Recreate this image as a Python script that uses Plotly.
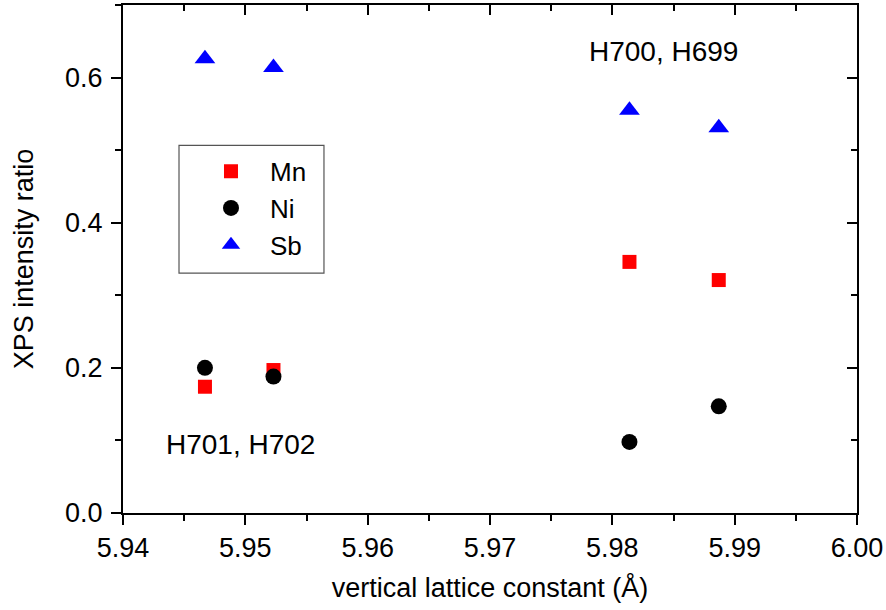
import plotly.graph_objects as go

# Data
x_vals = [5.9467, 5.9523, 5.9814, 5.9887]
mn_vals = [0.174, 0.197, 0.346, 0.321]
ni_vals = [0.200, 0.188, 0.098, 0.147]
sb_vals = [0.626, 0.614, 0.555, 0.531]

series_names = ["Mn", "Ni", "Sb"]
series_colors = ["#ff0000", "#000000", "#0000ff"]
series_symbols = ["square", "circle", "triangle-up"]
series_sizes = [14, 16, 18]

sample_labels = ["H701, H702", "H700, H699"]
label_x = [5.9496, 5.98415]
label_y = [0.095, 0.6355]

x_range = [5.94, 6.00]
y_range = [0.0, 0.7]
x_ticks = [5.94, 5.95, 5.96, 5.97, 5.98, 5.99, 6.00]
y_ticks = [0.0, 0.2, 0.4, 0.6]

FONT = "Arial, Liberation Sans, sans-serif"
FS = 27

fig = go.Figure()
for name, vals, col, sym, sz in zip(series_names, [mn_vals, ni_vals, sb_vals],
                                     series_colors, series_symbols, series_sizes):
    fig.add_trace(go.Scatter(x=x_vals, y=vals, mode="markers", name=name,
                             marker=dict(color=col, symbol=sym, size=sz, line=dict(width=0))))

# helper trace so that the mirrored (inward-tick) axes are drawn
fig.add_trace(go.Scatter(x=[None], y=[None], xaxis="x2", yaxis="y2",
                         showlegend=False, hoverinfo="skip"))

common = dict(showline=True, linecolor="black", linewidth=2, showgrid=False,
              zeroline=False, tickcolor="black", tickwidth=2, ticklen=10,
              automargin=False)

fig.update_layout(
    width=886, height=610,
    margin=dict(l=123, r=29, t=5, b=97),
    paper_bgcolor="white", plot_bgcolor="white",
    font=dict(family=FONT, size=FS, color="black"),
    xaxis=dict(range=x_range, tickvals=x_ticks, ticktext=[f"{v:.2f}" for v in x_ticks],
               ticks="outside", ticklabelstandoff=0,
               minor=dict(dtick=0.005, ticks="outside", ticklen=6, tickwidth=2, tickcolor="black"),
               title=dict(text="vertical lattice constant (Å)", standoff=16,
                          font=dict(size=FS)),
               **common),
    yaxis=dict(range=y_range, tickvals=y_ticks, ticktext=[f"{v:.1f}" for v in y_ticks],
               ticks="outside", ticklabelstandoff=3,
               minor=dict(dtick=0.1, ticks="outside", ticklen=6, tickwidth=2, tickcolor="black"),
               title=dict(text="XPS intensity ratio", standoff=24, font=dict(size=FS)),
               **common),
    xaxis2=dict(range=x_range, overlaying="x", side="top", anchor="y2",
                tickvals=x_ticks, showticklabels=False, ticks="inside",
                minor=dict(dtick=0.005, ticks="inside", ticklen=6, tickwidth=2, tickcolor="black"),
                **common),
    yaxis2=dict(range=y_range, overlaying="y", side="right", anchor="x2",
                tickvals=y_ticks, showticklabels=False, ticks="inside",
                minor=dict(dtick=0.1, ticks="inside", ticklen=6, tickwidth=2, tickcolor="black"),
                **common),
    legend=dict(x=0.094, y=0.719, xanchor="left", yanchor="top",
                bgcolor="rgba(0,0,0,0)", borderwidth=0, itemwidth=68,
                font=dict(family=FONT, size=26), tracegroupgap=0),
    showlegend=True,
)

# legend frame
fig.add_shape(type="rect", xref="paper", yref="paper",
              x0=0.0763, x1=0.2738, y0=0.472, y1=0.7237,
              line=dict(color="#555555", width=1.2), fillcolor="rgba(0,0,0,0)")

for txt, lx, ly in zip(sample_labels, label_x, label_y):
    fig.add_annotation(x=lx, y=ly, text=txt, showarrow=False, xref="x", yref="y",
                       font=dict(family=FONT, size=28, color="black"))

fig.write_html("out.html", config={"displayModeBar": False},
               post_script="document.body.style.margin='0';document.body.style.padding='0';")
